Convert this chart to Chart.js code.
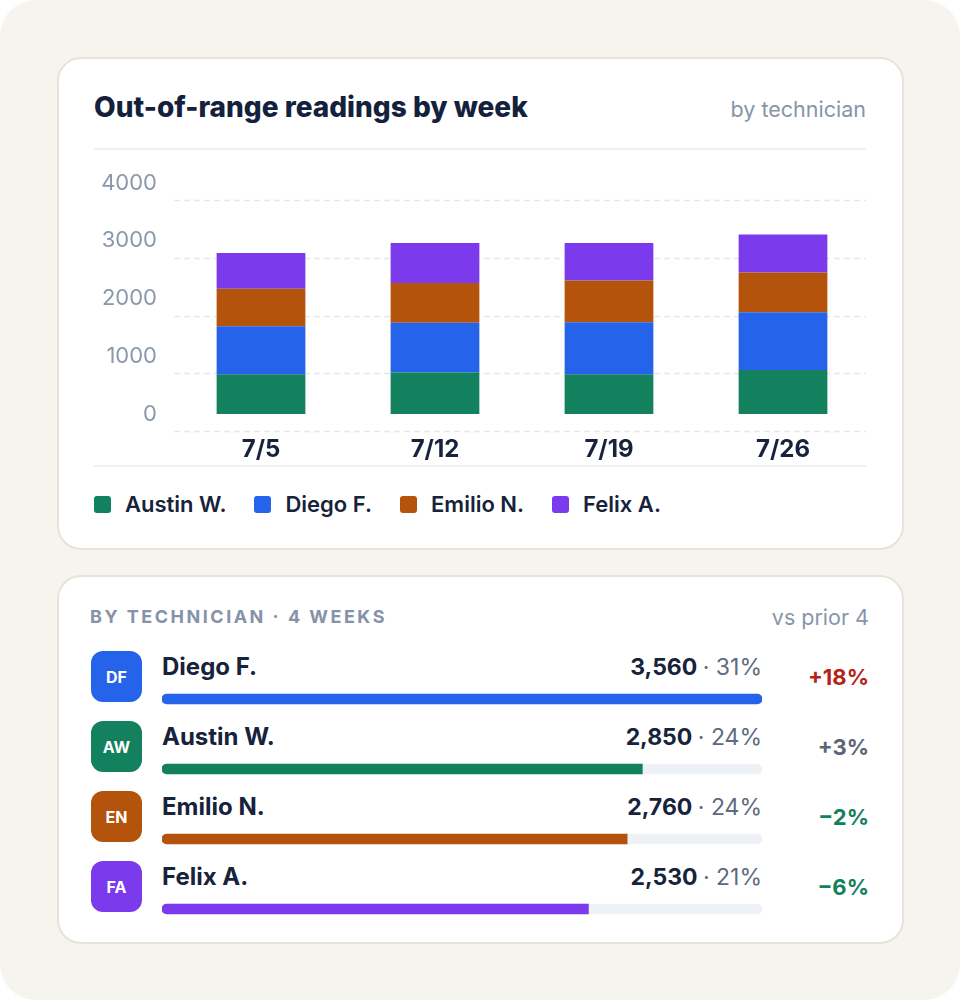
<!DOCTYPE html>
<html>
<head>
<meta charset="utf-8">
<script src="https://cdn.jsdelivr.net/npm/chart.js@4.4.1/dist/chart.umd.min.js"></script>
<style>
  html, body { margin: 0; padding: 0; background: #ffffff; }
  body { width: 960px; height: 1000px; position: relative; font-family: Inter, "Noto Sans", sans-serif; overflow: hidden; }
  .bg { position: absolute; left: 0; top: 0; width: 960px; height: 1000px; background: #f5f4ef; border-radius: 36px; }
  .card { position: absolute; background: #ffffff; border: 2px solid #e7e3d9; border-radius: 24px; box-sizing: border-box; }
  .abs { position: absolute; white-space: nowrap; }
  .title { font-size: 28px; font-weight: 800; color: #14213d; letter-spacing: 0px; }
  .sub { font-size: 21.5px; color: #8795aa; }
  .hline { position: absolute; height: 2px; background: #eef1f5; }
  .legend-item { display: inline-flex; align-items: center; margin-right: 28px; font-size: 22px; font-weight: 600; color: #17223b; }
  .legend-sw { width: 17px; height: 17px; border-radius: 3px; margin-right: 14px; display: inline-block; }
  .hdr { font-size: 18px; font-weight: 700; letter-spacing: 2.5px; color: #8592a7; }
  .avatar { position: absolute; width: 51px; height: 51px; border-radius: 12px; color: #fff; font-size: 16px; font-weight: 700; display: flex; align-items: center; justify-content: center; }
  .name { font-size: 24px; font-weight: 700; color: #17223b; }
  .val { font-size: 23px; font-weight: 700; color: #17223b; text-align: right; }
  .val span { font-weight: 400; color: #5e6a7d; }
  .chg { font-size: 22px; font-weight: 700; text-align: right; }
</style>
</head>
<body>
<div class="bg"></div>

<div class="card" style="left:57px; top:57px; width:847px; height:493px;"></div>
<div class="abs title" style="left:94px; top:90px;">Out-of-range readings by week</div>
<div class="abs sub" style="right:94px; top:96px;">by technician</div>
<div class="hline" style="left:94px; top:148px; width:772px;"></div>
<div class="abs" style="left:94px; top:150px; width:776px; height:314px;"><canvas id="weekChart"></canvas></div>
<div class="hline" style="left:94px; top:465px; width:772px;"></div>
<div class="abs" id="legend" style="left:94px; top:491px;"></div>

<div class="card" style="left:57px; top:575px; width:847px; height:369px;"></div>
<div class="abs hdr" style="left:90px; top:606px;">BY TECHNICIAN · 4 WEEKS</div>
<div class="abs sub" style="right:91px; top:604px;">vs prior 4</div>
<div id="rows"></div>
<div class="abs" style="left:162px; top:664px; width:600px; height:280px;"><canvas id="techChart"></canvas></div>

<script>
// ---------- data ----------
const weeks = ['7/5', '7/12', '7/19', '7/26'];
const techNames = ['Austin W.', 'Diego F.', 'Emilio N.', 'Felix A.'];
const austinWeekly = [690, 720, 690, 760];
const diegoWeekly  = [830, 860, 900, 1000];
const emilioWeekly = [650, 690, 720, 690];
const felixWeekly  = [620, 690, 650, 660];
const yTicks = [0, 1000, 2000, 3000, 4000];

// bottom panel (sorted)
const rankNames    = ['Diego F.', 'Austin W.', 'Emilio N.', 'Felix A.'];
const rankInitials = ['DF', 'AW', 'EN', 'FA'];
const rankTotals   = [3560, 2850, 2760, 2530];
const rankShares   = ['31%', '24%', '24%', '21%'];
const rankChanges  = ['+18%', '+3%', '\u22122%', '\u22126%'];

// ---------- styles ----------
const techColors = { 'Austin W.': '#13805e', 'Diego F.': '#2563eb', 'Emilio N.': '#b4530b', 'Felix A.': '#7c3aed' };
const changeColors = ['#b42318', '#5b6678', '#13805e', '#13805e'];
const FONT = 'Inter, "Noto Sans", sans-serif';

// ---------- weekly stacked chart ----------
const weeklySeries = [austinWeekly, diegoWeekly, emilioWeekly, felixWeekly];

const offsetGrid = {
  id: 'offsetGrid',
  beforeDatasetsDraw(chart) {
    const { ctx, chartArea, scales } = chart;
    const y = scales.y;
    ctx.save();
    ctx.strokeStyle = '#e3e7ef';
    ctx.lineWidth = 1.5;
    ctx.setLineDash([6, 4]);
    yTicks.forEach(v => {
      const py = Math.round(y.getPixelForValue(v) + 17) + 0.5;
      ctx.beginPath();
      ctx.moveTo(chartArea.left, py);
      ctx.lineTo(chartArea.right - 4, py);
      ctx.stroke();
    });
    ctx.restore();
  }
};

new Chart(document.getElementById('weekChart'), {
  type: 'bar',
  data: {
    labels: weeks,
    datasets: techNames.map((n, i) => ({
      label: n,
      data: weeklySeries[i],
      backgroundColor: techColors[n],
      borderWidth: 0,
      barPercentage: 0.51,
      categoryPercentage: 1
    }))
  },
  options: {
    responsive: true,
    maintainAspectRatio: false,
    animation: false,
    layout: { padding: { top: 33, bottom: 0, left: 0, right: 0 } },
    plugins: { legend: { display: false }, tooltip: { enabled: false } },
    scales: {
      x: {
        stacked: true,
        grid: { display: false, drawTicks: false },
        border: { display: false },
        ticks: { color: '#17223b', padding: 21, font: { family: FONT, size: 24, weight: '700' } },
        afterFit(s) { s.height = 50; }
      },
      y: {
        stacked: true,
        min: 0, max: 4000,
        grid: { display: false, drawTicks: false },
        border: { display: false },
        ticks: {
          stepSize: 1000, color: '#8a98ad', padding: 17,
          font: { family: FONT, size: 22 },
          callback: v => String(v)
        },
        afterFit(s) { s.width = 80; }
      }
    }
  },
  plugins: [offsetGrid]
});

// legend
document.getElementById('legend').innerHTML = techNames.map(n =>
  `<span class="legend-item"><span class="legend-sw" style="background:${techColors[n]}"></span>${n}</span>`).join('');

// rows text
const rowsEl = document.getElementById('rows');
let html = '';
rankNames.forEach((n, i) => {
  const top = 651 + i * 70;
  html += `<div class="avatar" style="left:91px; top:${top}px; background:${techColors[n]}">${rankInitials[i]}</div>`;
  html += `<div class="abs name" style="left:162px; top:${top + 1}px;">${n}</div>`;
  html += `<div class="abs val" style="right:198px; top:${top + 2}px;">${rankTotals[i].toLocaleString('en-US')} <span>· ${rankShares[i]}</span></div>`;
  html += `<div class="abs chg" style="right:91px; top:${top + 13}px; color:${changeColors[i]}">${rankChanges[i]}</div>`;
});
rowsEl.innerHTML = html;

// ---------- technician progress bars ----------
const maxTotal = Math.max(...rankTotals);
new Chart(document.getElementById('techChart'), {
  type: 'bar',
  data: {
    labels: rankNames,
    datasets: [
      {
        label: 'total',
        data: rankTotals,
        backgroundColor: rankNames.map(n => techColors[n]),
        borderWidth: 0,
        barThickness: 10,
        grouped: false,
        order: 1,
        borderSkipped: false,
        borderRadius: ctx => {
          const v = rankTotals[ctx.dataIndex];
          return v >= maxTotal ? 5 : { topLeft: 5, bottomLeft: 5, topRight: 0, bottomRight: 0 };
        }
      },
      {
        label: 'track',
        data: rankTotals.map(() => maxTotal),
        backgroundColor: '#eef1f5',
        borderWidth: 0,
        barThickness: 10,
        grouped: false,
        order: 2,
        borderSkipped: false,
        borderRadius: 5
      }
    ]
  },
  options: {
    indexAxis: 'y',
    responsive: true,
    maintainAspectRatio: false,
    animation: false,
    layout: { padding: 0 },
    plugins: { legend: { display: false }, tooltip: { enabled: false } },
    scales: {
      x: { display: false, min: 0, max: maxTotal },
      y: { display: false }
    }
  }
});
</script>
</body>
</html>
